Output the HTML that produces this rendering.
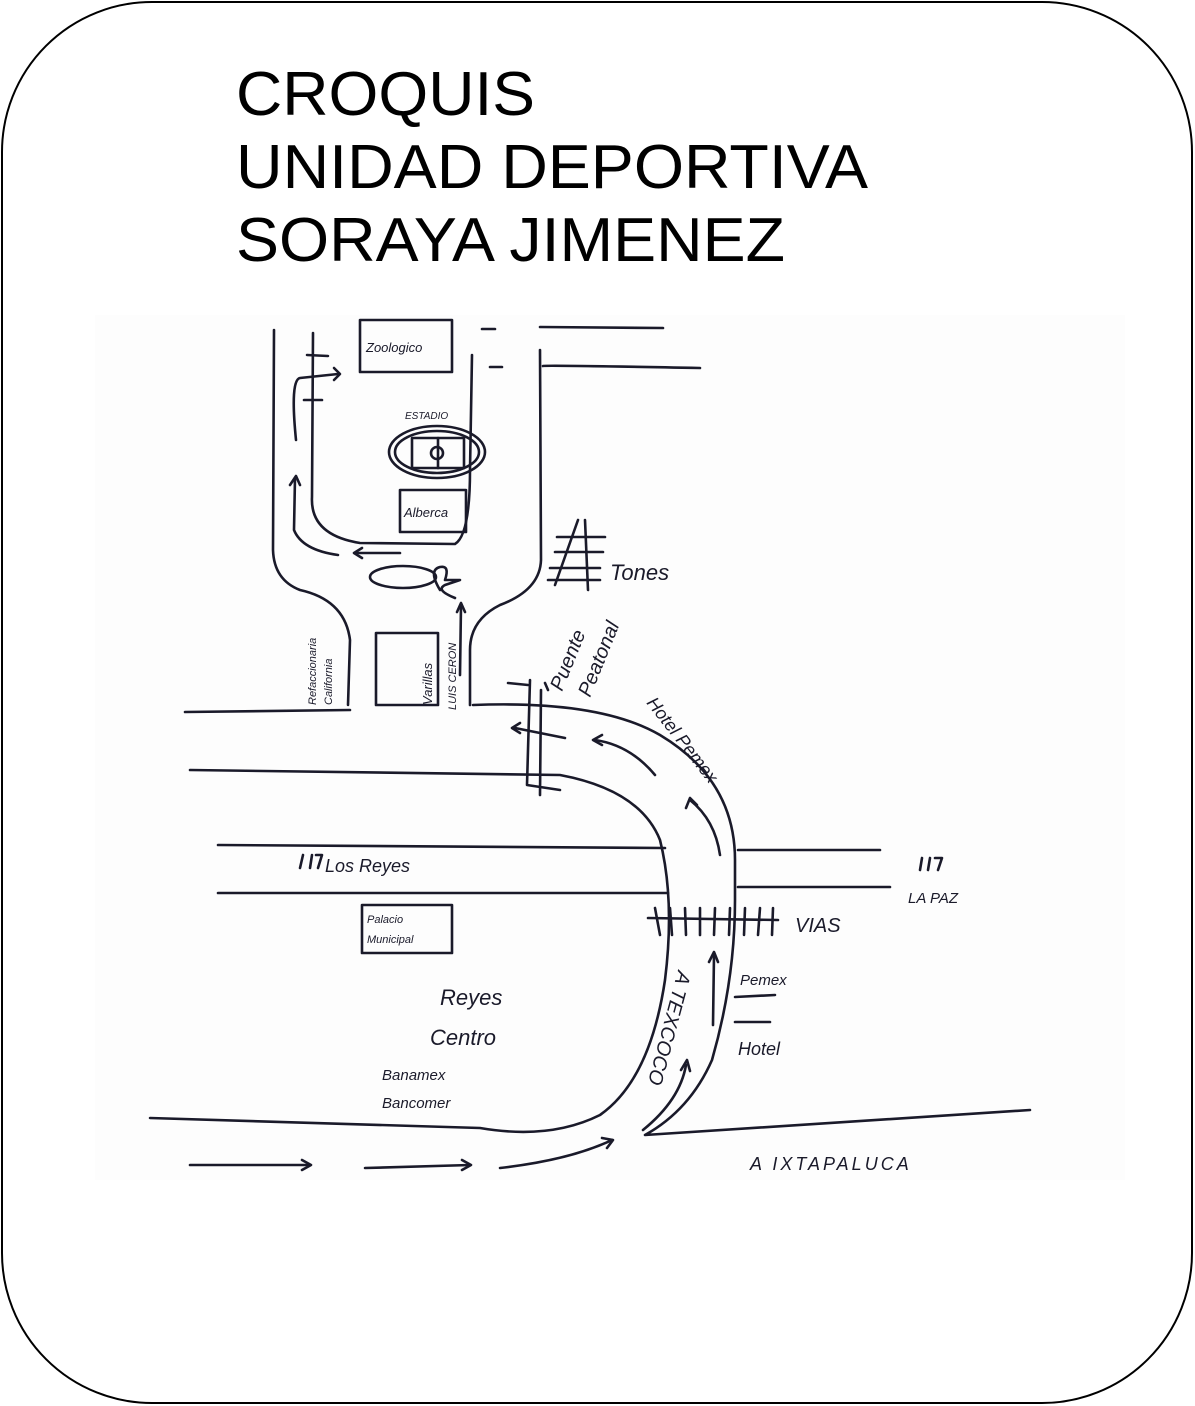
<!DOCTYPE html>
<html><head><meta charset="utf-8"><style>
html,body{margin:0;padding:0;background:#fff;}
svg{display:block;}
.h{font-family:"Liberation Sans",sans-serif;font-style:italic;fill:#1a1a2a;}
</style></head><body>
<svg width="1195" height="1406" viewBox="0 0 1195 1406" xmlns="http://www.w3.org/2000/svg">
<rect x="2" y="2" width="1190" height="1401" rx="150" ry="150" fill="#fff" stroke="#000" stroke-width="2"/>
<rect x="95" y="315" width="1030" height="865" fill="#fdfdfd"/>
<g font-family="Liberation Sans, sans-serif" font-size="62" fill="#000">
<text x="236" y="115" textLength="299" lengthAdjust="spacingAndGlyphs">CROQUIS</text>
<text x="236" y="188" textLength="632" lengthAdjust="spacingAndGlyphs">UNIDAD DEPORTIVA</text>
<text x="236" y="261" textLength="549" lengthAdjust="spacingAndGlyphs">SORAYA JIMENEZ</text>
</g>
<g fill="none" stroke="#1a1a2a" stroke-width="2.6" stroke-linecap="round" stroke-linejoin="round">
<path d="M274 330 L273 550 Q274 580 300 590 Q345 600 350 640 L348 705"/>
<path d="M313 333 L312 497 Q310 535 360 543 L455 544 Q470 535 470 470 L472 355"/>
<path d="M540 350 L541 560 Q540 590 500 605 Q470 620 470 650 L470 705"/>
<path d="M540 327 L663 328"/><path d="M543 366 Q545 365 700 368"/>
<path d="M482 329 L495 329"/>
<path d="M307 355 L328 356 M304 400 L322 400 M490 367 L502 367"/>
<rect x="360" y="320" width="92" height="52"/>
<ellipse cx="437" cy="452" rx="48" ry="26"/><ellipse cx="437" cy="452" rx="42" ry="21"/>
<rect x="412" y="438" width="52" height="30"/><line x1="438" y1="438" x2="438" y2="468"/><circle cx="437" cy="453" r="6"/>
<rect x="400" y="490" width="66" height="42"/>
<path d="M296 440 Q290 380 300 378 L338 374"/><path d="M334 368 L340 374 L334 380"/>
<path d="M295 478 L294 530 Q302 550 338 555"/><path d="M290 485 L296 476 L300 485"/>
<path d="M400 553 L355 553"/><path d="M362 548 L354 553 L362 558"/>
<ellipse cx="403" cy="577" rx="33" ry="11"/>
<path d="M440 590 Q428 570 440 567 Q450 565 445 580 L460 580 L445 585 Q435 590 455 598"/>
<path d="M460 675 L461 605"/><path d="M457 612 L461 603 L465 612"/>
<path d="M555 585 L578 520 M585 520 L588 590 M557 537 L605 537 M555 552 L603 552 M550 568 L600 568 M548 580 L600 580"/>
<rect x="376" y="633" width="62" height="72"/>
<path d="M185 712 L350 710"/>
<path d="M473 705 Q600 700 660 735 Q735 780 735 860 L735 900 Q735 980 712 1060 Q690 1110 645 1135 L1030 1110"/>
<path d="M190 770 L560 775 Q640 790 660 840 Q675 900 665 980 Q650 1080 600 1115 Q550 1140 480 1128 L150 1118"/>
<path d="M565 738 L515 728"/><path d="M520 723 L512 728 L520 733"/>
<path d="M655 775 Q630 745 595 740"/><path d="M602 735 L593 740 L602 745"/>
<path d="M720 855 Q715 820 690 800"/><path d="M686 808 L690 798 L697 805"/>
<path d="M530 680 L527 785 L560 790 M541 690 L540 795 M508 683 L528 685 M545 683 L548 690"/>
<path d="M218 845 L665 848 M738 850 L880 850"/>
<path d="M218 893 L668 893 M738 887 L890 887"/>
<path d="M648 918 L778 920"/>
<path d="M655 908 L660 935 M670 908 L672 935 M685 908 L686 935 M700 908 L700 935 M715 908 L714 935 M730 908 L729 935 M745 908 L744 935 M760 908 L758 935 M773 908 L772 935"/>
<path d="M713 1025 L714 955"/><path d="M709 962 L714 952 L718 962"/>
<path d="M735 997 L775 995 M735 1022 L770 1022"/>
<path d="M643 1130 Q680 1100 686 1065"/><path d="M681 1070 L687 1060 L690 1071"/>
<rect x="362" y="905" width="90" height="48"/>
<path d="M190 1165 L310 1165"/><path d="M302 1160 L311 1165 L302 1170"/>
<path d="M365 1168 L470 1165"/><path d="M462 1160 L471 1165 L462 1170"/>
<path d="M500 1168 Q570 1160 612 1140"/><path d="M602 1138 L613 1140 L607 1148"/>
<path d="M300 868 L303 855 M310 868 L312 855 M316 855 L322 855 L318 868 M920 870 L922 858 M928 870 L930 858 M935 858 L942 858 L938 870"/>
</g>
<g class="h">
<text x="366" y="352" font-size="13">Zoologico</text>
<text x="405" y="419" font-size="10">ESTADIO</text>
<text x="404" y="517" font-size="13">Alberca</text>
<text x="610" y="580" font-size="22">Tones</text>
<text font-size="11" transform="translate(316,705) rotate(-90)">Refaccionaria</text>
<text font-size="11" transform="translate(332,705) rotate(-90)">California</text>
<text font-size="13" transform="translate(432,705) rotate(-90)">Varillas</text>
<text font-size="11" transform="translate(456,710) rotate(-90)">LUIS CERON</text>
<text font-size="20" transform="translate(562,692) rotate(-68)">Puente</text>
<text font-size="20" transform="translate(590,698) rotate(-68)">Peatonal</text>
<text font-size="18" transform="translate(646,703) rotate(52)">Hotel Pemex</text>
<text x="325" y="872" font-size="18">Los Reyes</text>
<text x="908" y="903" font-size="15">LA PAZ</text>
<text x="795" y="932" font-size="20">VIAS</text>
<text x="367" y="923" font-size="11">Palacio</text>
<text x="367" y="943" font-size="11">Municipal</text>
<text x="440" y="1005" font-size="22">Reyes</text>
<text x="430" y="1045" font-size="22">Centro</text>
<text x="382" y="1080" font-size="15">Banamex</text>
<text x="382" y="1108" font-size="15">Bancomer</text>
<text x="740" y="985" font-size="15">Pemex</text>
<text x="738" y="1055" font-size="18">Hotel</text>
<text font-size="20" transform="translate(678,970) rotate(105)">A TEXCOCO</text>
<text x="750" y="1170" font-size="18" style="letter-spacing:3px">A IXTAPALUCA</text>
</g>
</svg>
</body></html>
